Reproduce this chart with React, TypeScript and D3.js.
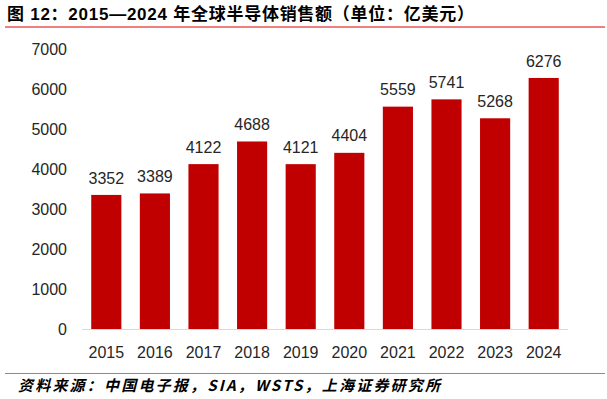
import React, { useEffect, useRef } from "react";
import * as d3 from "d3";

const years = ["2015", "2016", "2017", "2018", "2019", "2020", "2021", "2022", "2023", "2024"];
const sales = [3352, 3389, 4122, 4688, 4121, 4404, 5559, 5741, 5268, 6276];
const yTicks = [0, 1000, 2000, 3000, 4000, 5000, 6000, 7000];

const width = 607;
const height = 399;
const margin = { left: 82, right: 39, top: 49, bottom: 70 };
const font = "'Liberation Sans', Arial, sans-serif";

const App = () => {
  const ref = useRef<SVGGElement>(null);

  useEffect(() => {
    const g = d3.select(ref.current);
    g.selectAll("*").remove();

    const x = d3
      .scaleBand()
      .domain(years)
      .range([margin.left, width - margin.right])
      .paddingInner(0.38)
      .paddingOuter(0.19);
    const y = d3
      .scaleLinear()
      .domain([0, 7000])
      .range([height - margin.bottom, margin.top]);

    // y tick labels
    g.selectAll("text.ytick")
      .data(yTicks)
      .enter()
      .append("text")
      .attr("class", "ytick")
      .attr("x", 67)
      .attr("y", d => y(d))
      .attr("dy", "0.35em")
      .attr("text-anchor", "end")
      .style("font-family", font)
      .style("font-size", "16px")
      .style("fill", "#262626")
      .text(d => d);

    g.selectAll("rect.bar")
      .data(sales)
      .enter()
      .append("rect")
      .attr("class", "bar")
      .attr("x", (d, i) => x(years[i]))
      .attr("width", x.bandwidth())
      .attr("y", d => y(d))
      .attr("height", d => y(0) - y(d))
      .attr("fill", "#C00000");

    // baseline
    g.append("line")
      .attr("x1", margin.left)
      .attr("x2", width - margin.right)
      .attr("y1", y(0) + 0.5)
      .attr("y2", y(0) + 0.5)
      .attr("stroke", "#d9d9d9")
      .attr("stroke-width", 1);

    g.selectAll("text.val")
      .data(sales)
      .enter()
      .append("text")
      .attr("class", "val")
      .attr("x", (d, i) => x(years[i]) + x.bandwidth() / 2)
      .attr("y", d => y(d) - 17)
      .attr("dy", "0.35em")
      .attr("text-anchor", "middle")
      .style("font-family", font)
      .style("font-size", "16px")
      .style("fill", "#262626")
      .text(d => d);

    g.selectAll("text.xtick")
      .data(years)
      .enter()
      .append("text")
      .attr("class", "xtick")
      .attr("x", d => x(d) + x.bandwidth() / 2)
      .attr("y", y(0) + 23)
      .attr("dy", "0.35em")
      .attr("text-anchor", "middle")
      .style("font-family", font)
      .style("font-size", "16px")
      .style("fill", "#262626")
      .text(d => d);
  }, []);

  return (
    <svg width={width} height={height} style={{ position: "absolute", left: 0, top: 0 }}>
      <rect width={width} height={height} fill="#fff" />
      <text
        x={7}
        y={20}
        textLength={467}
        lengthAdjust="spacing"
        style={{ fontFamily: "'Liberation Sans', 'Noto Sans CJK SC', sans-serif", fontSize: 17, fontWeight: "bold" }}
        fill="#000"
      >
        图 12：2015—2024 年全球半导体销售额（单位：亿美元）
      </text>
      <line x1={5} x2={605} y1={27} y2={27} stroke="#e00000" strokeWidth={1} />
      <g ref={ref} />
      <line x1={5} x2={605} y1={373.5} y2={373.5} stroke="#f06060" strokeWidth={1} />
      <text
        x={18}
        y={391}
        textLength={422}
        lengthAdjust="spacing"
        style={{ fontFamily: "'Noto Sans CJK SC', sans-serif", fontSize: 15, fontStyle: "italic", fontWeight: "bold" }}
        fill="#000"
      >
        资料来源：中国电子报，SIA，WSTS，上海证券研究所
      </text>
    </svg>
  );
};

export default App;
